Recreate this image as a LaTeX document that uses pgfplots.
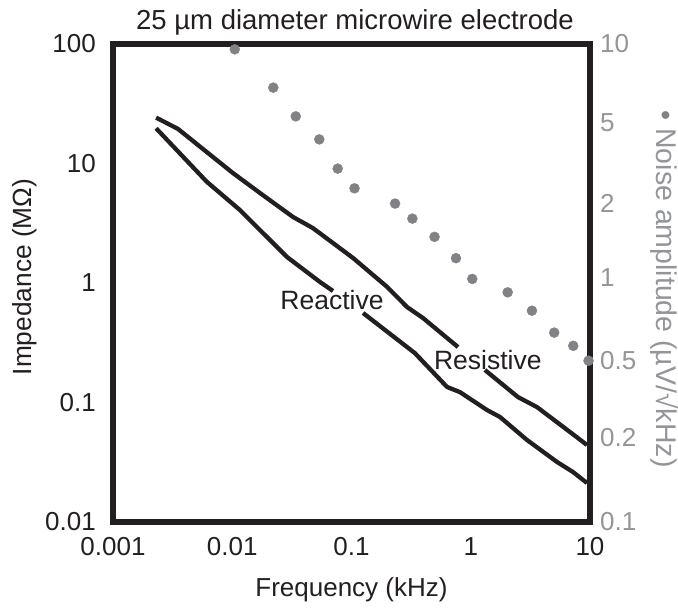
\documentclass[border=0pt]{standalone}
\usepackage{fontspec}
\setmainfont{Liberation Sans}
\usepackage{pgfplots}
\pgfplotsset{compat=1.18}
\definecolor{ink}{HTML}{231F20}
\definecolor{dotgray}{HTML}{808285}
\definecolor{labgray}{HTML}{939598}

\pgfplotstableread{
f Z
0.0023 24.2
0.0035 19.5
0.0101 8.34
0.0171 5.66
0.0323 3.57
0.0475 2.88
0.103 1.62
0.199 0.927
0.292 0.630
0.398 0.509
0.782 0.291
nan nan
1.315 0.187
2.49 0.111
3.59 0.0916
6.80 0.0566
9.44 0.0441
}\resistive

\pgfplotstableread{
f Z
0.0023 19.7
0.0061 7.05
0.0116 4.08
0.0288 1.65
0.0544 1.02
0.070 0.857
nan nan
0.125 0.561
0.340 0.259
0.632 0.135
0.813 0.122
1.37 0.0865
1.76 0.0756
2.96 0.0486
5.29 0.0318
7.20 0.0262
9.44 0.0212
}\reactive

\pgfplotstableread{
f N
0.0105 9.5
0.0221 6.57
0.0341 4.98
0.0537 3.99
0.0766 3.01
0.106 2.49
0.232 2.15
0.324 1.86
0.497 1.56
0.752 1.27
1.03 1.04
2.04 0.914
3.26 0.766
5.01 0.620
7.24 0.546
9.72 0.473
}\noise

\begin{document}
\begin{tikzpicture}
\useasboundingbox (-113pt,-86pt) rectangle (565pt,522pt);
\begin{axis}[
  at={(0pt,0pt)}, anchor=south west,
  scale only axis, width=477pt, height=478pt,
  xmode=log, ymode=log, xmin=0.001, xmax=10, ymin=0.01, ymax=100,
  xtick={0.001,0.01,0.1,1,10}, xticklabels={0.001,0.01,0.1,1,10},
  ytick={0.01,0.1,1,10,100}, yticklabels={0.01,0.1,1,10,100},
  minor xtick={}, minor ytick={},
  tick style={draw=none},
  axis line style={line width=5.5pt, draw=ink},
  clip=false,
  unbounded coords=jump,
  xticklabel style={font=\fontsize{26}{26}\selectfont, text=ink, anchor=north, inner sep=0pt, yshift=-15pt},
  yticklabel style={font=\fontsize{26}{26}\selectfont, text=ink, anchor=east, inner sep=0pt, xshift=-17pt},
]
\addplot[ink, line width=4.3pt, line join=round] table[x=f,y=Z] {\resistive};
\addplot[ink, line width=4.3pt, line join=round] table[x=f,y=Z] {\reactive};
\node[font=\fontsize{26.5}{26.5}\selectfont, text=ink] at (axis cs:0.0686,0.721) {Reactive};
\node[font=\fontsize{26.5}{26.5}\selectfont, text=ink] at (axis cs:1.39,0.225) {Resistive};
\end{axis}
\begin{axis}[
  at={(0pt,0pt)}, anchor=south west,
  scale only axis, width=477pt, height=478pt,
  xmode=log, ymode=log, xmin=0.001, xmax=10, ymin=0.1, ymax=10,
  hide x axis, axis y line*=right, y axis line style={draw=none},
  tick style={draw=none}, minor ytick={},
  ytick={10,4.67,2.16,1.05,0.476,0.225,0.1},
  yticklabels={10,5,2,1,0.5,0.2,0.1},
  yticklabel style={font=\fontsize{26}{26}\selectfont, text=labgray, anchor=west, inner sep=0pt, xshift=10pt},
  clip=false,
]
\addplot[only marks, mark=*, mark size=5pt, color=dotgray] table[x=f,y=N] {\noise};
\end{axis}
\node[font=\fontsize{27.5}{27.5}\selectfont, text=ink] at (242pt,500pt) {25 µm diameter microwire electrode};
\node[font=\fontsize{26}{26}\selectfont, text=ink, anchor=base] at (238.5pt,-75pt) {Frequency (kHz)};
\node[font=\fontsize{26.3}{26.3}\selectfont, text=ink, rotate=90] at (-88pt,245pt) {Impedance (MΩ)};
\node[font=\fontsize{28.5}{28.5}\selectfont, text=labgray, rotate=-90] at (552pt,233pt) {{\color{dotgray}•} Noise amplitude (µV/√kHz)};
\end{tikzpicture}
\end{document}
